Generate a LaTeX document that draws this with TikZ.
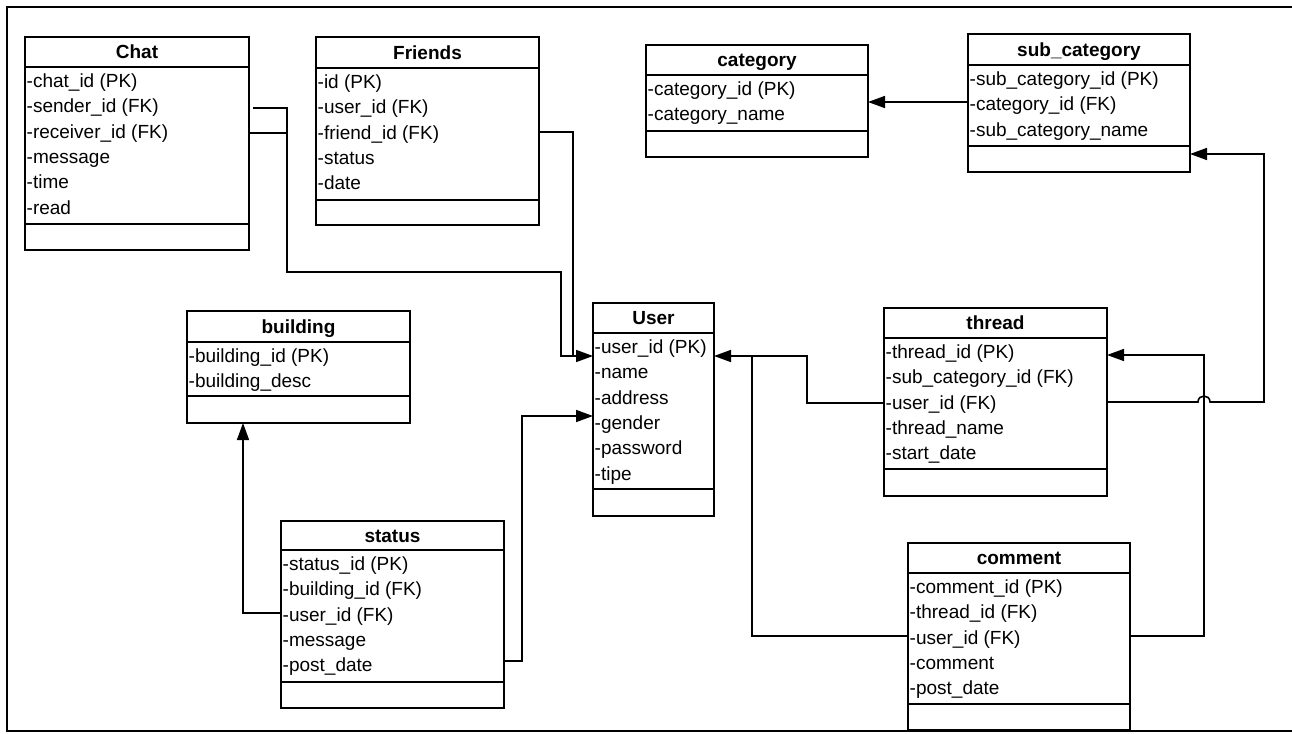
\documentclass[tikz,border=0pt]{standalone}
\usepackage{fontspec}
\setmainfont{Liberation Sans}
\usetikzlibrary{arrows.meta,calc}

\tikzset{
  ebox/.style={draw=black, line width=1.8pt, inner sep=0pt, outer sep=0pt, anchor=north west},
  sepline/.style={draw=black, line width=1.5pt},
  etitle/.style={font=\fontsize{19}{19}\selectfont\bfseries, inner sep=0pt, anchor=base},
  erow/.style={font=\fontsize{19}{19}\selectfont, inner sep=0pt, anchor=base west,
               text height=14pt, text depth=4pt},
  link/.style={draw=black, line width=1.6pt},
  fk/.style={link, -{Triangle[length=17pt,width=12pt]}},
  frame/.style={draw=black, line width=2pt},
}

% entity: name, left, top, right, header bottom, attributes bottom, bottom, title, rows
\newcommand\entity[9]{%
  \node[ebox, minimum width={#4pt-#2pt}, minimum height={#7pt-#3pt}] (#1) at (#2,#3) {};
  \draw[sepline] (#1.west |- 0,#5) -- (#1.east |- 0,#5);
  \draw[sepline] (#1.west |- 0,#6) -- (#1.east |- 0,#6);
  \node[etitle] (#1-title) at ({(#2+#4)/2},{(#3+#5)/2+6.8}) {#8};
  \foreach \txt [count=\i] in {#9} {
    \node[erow] (#1-\i) at ({#2+1.5},{#5+20.5+25.3*(\i-1)}) {\txt};
  }%
}

\begin{document}
\begin{tikzpicture}[x=1pt, y=-1pt]
\useasboundingbox (0,0) rectangle (1292,733);
\fill[white] (0,0) rectangle (1292,733);

% outer frame
\draw[frame] (1292,7) -- (7,7) -- (7,731) -- (1292,731);

% tables
\entity{Chat}{25}{37}{249}{67}{224}{250}{Chat}%
  {-chat\_id (PK), -sender\_id (FK), -receiver\_id (FK), -message, -time, -read}
\entity{Friends}{316}{37}{539}{68}{200}{225}{Friends}%
  {-id (PK), -user\_id (FK), -friend\_id (FK), -status, -date}
\entity{category}{646}{45}{868}{75}{131}{157}{category}%
  {-category\_id (PK), -category\_name}
\entity{sub_category}{968}{34}{1190}{65}{146}{172}{sub\_category}%
  {-sub\_category\_id (PK), -category\_id (FK), -sub\_category\_name}
\entity{building}{187}{311}{410}{342}{396}{423}{building}%
  {-building\_id (PK), -building\_desc}
\entity{User}{593}{303}{714}{333}{489}{516}{User}%
  {-user\_id (PK), -name, -address, -gender, -password, -tipe}
\entity{thread}{884}{308}{1107}{338}{469}{496}{thread}%
  {-thread\_id (PK), -sub\_category\_id (FK), -user\_id (FK), -thread\_name, -start\_date}
\entity{status}{281}{521}{504}{550}{682}{708}{status}%
  {-status\_id (PK), -building\_id (FK), -user\_id (FK), -message, -post\_date}
\entity{comment}{908}{543}{1130}{573}{704}{730}{comment}%
  {-comment\_id (PK), -thread\_id (FK), -user\_id (FK), -comment, -post\_date}

% relations
\draw[fk] ($(Chat.east |- 0,108)+(4,0)$) -| (287,272) -| (561,356) -- (User.west |- 0,356);
\draw[link] (Chat.east |- 0,133) -- (287,133);
\draw[link] (Friends.east |- 0,132) -| (573,356);
\draw[fk] (status.east |- 0,661) -| (522,416) -- (User.west |- 0,416);
\draw[fk] (status.west |- 0,613) -| (building.south -| 243,0);
\draw[fk] (thread.west |- 0,403) -| (807,356) -- (User.east |- 0,356);
\draw[link] (comment.west |- 0,636) -| (752,356);
\draw[fk] (comment.east |- 0,636) -| (1204,355) -- (thread.east |- 0,355);
\draw[fk] (thread.east |- 0,402) -- (1198,402)
  .. controls (1198,394) and (1210,394) .. (1210,402)
  -- (1264,402) |- (sub_category.east |- 0,154);
\draw[fk] (sub_category.west |- 0,102) -- (category.east |- 0,102);
\end{tikzpicture}
\end{document}
